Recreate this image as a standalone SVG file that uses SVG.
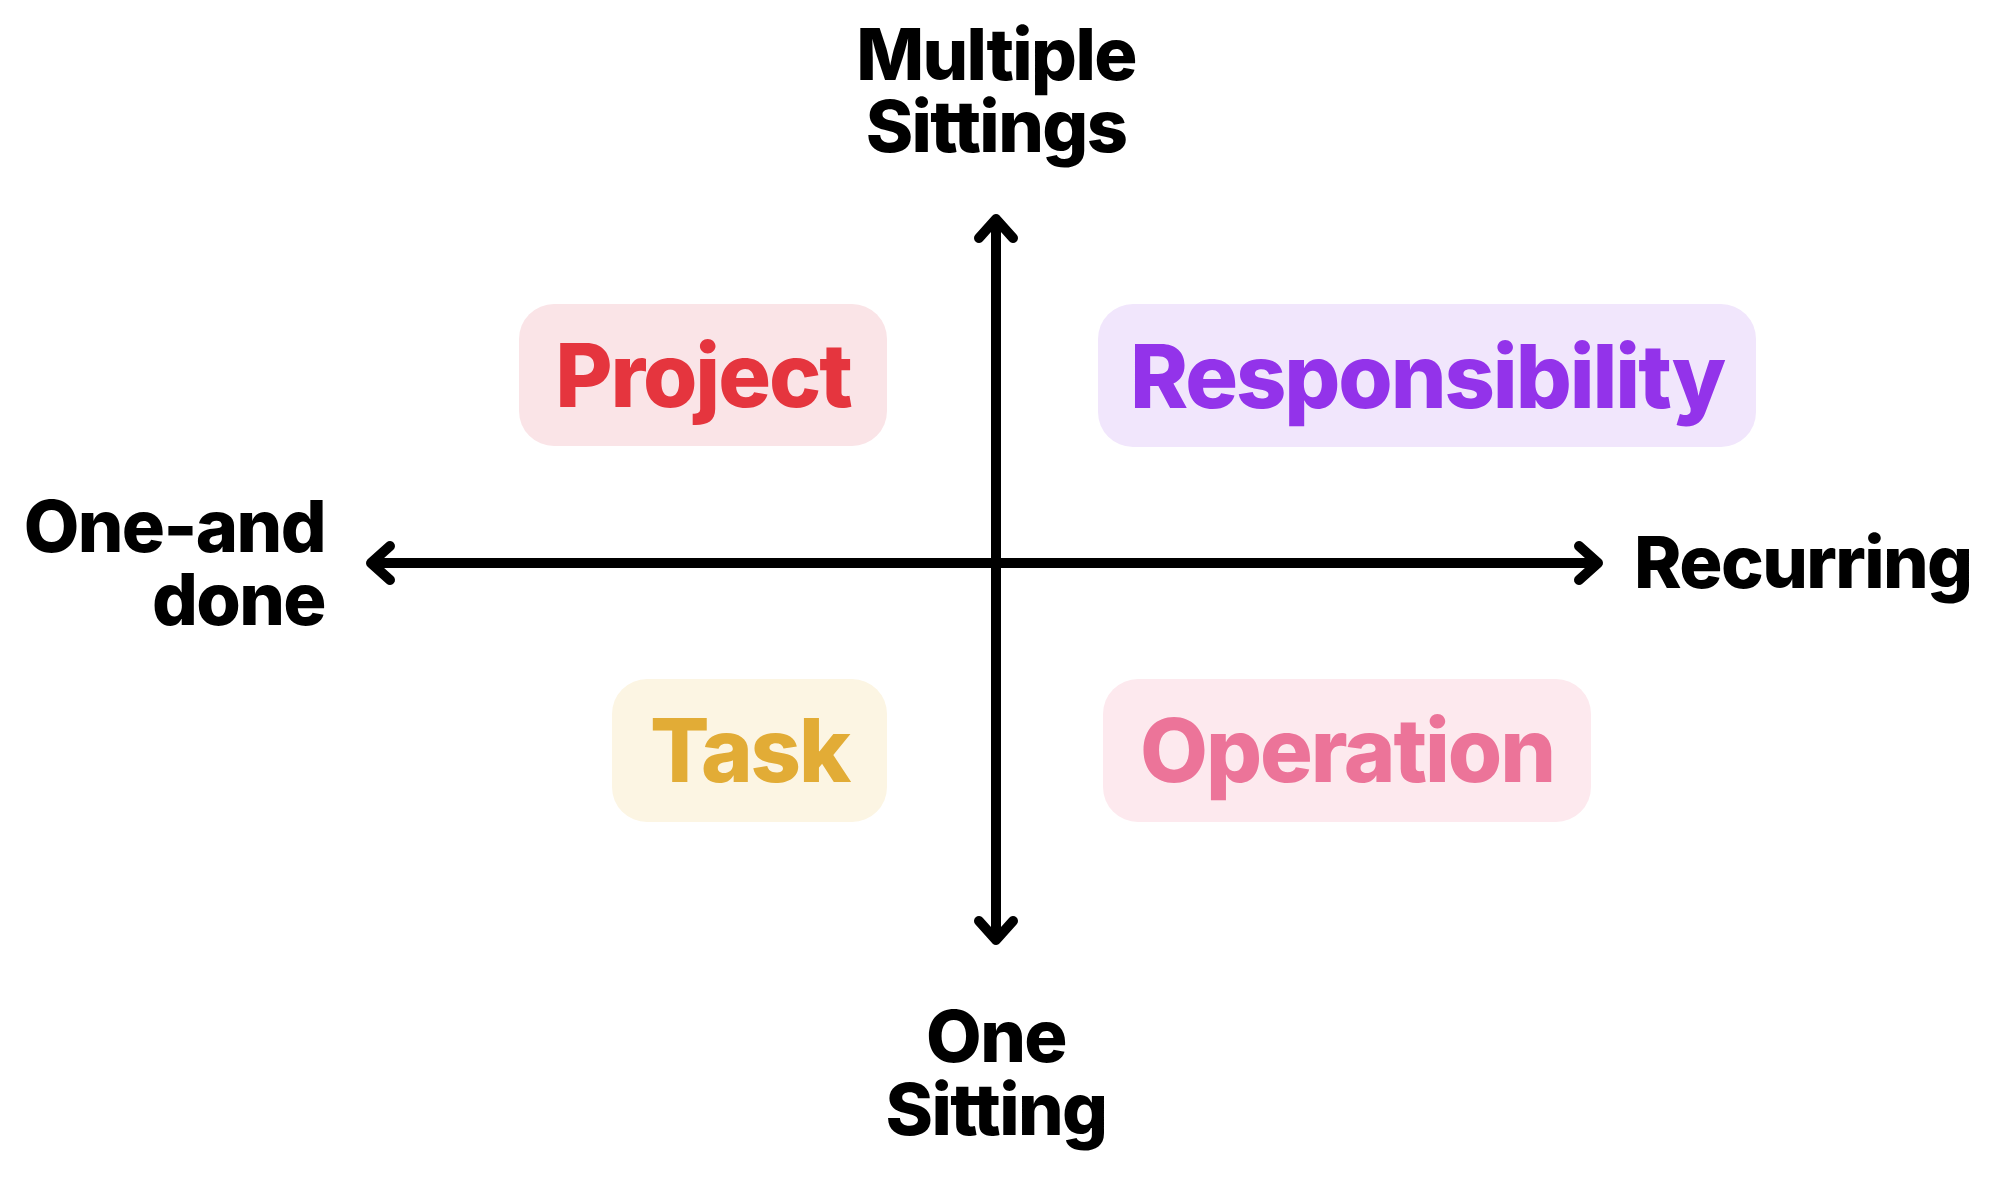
<svg xmlns="http://www.w3.org/2000/svg" width="2010" height="1190" viewBox="0 0 2010 1190">
  <style>
    .axis { fill: #000000; font-family: Inter, "Noto Sans", "Liberation Sans", sans-serif; font-weight: 800; font-size: 72px; letter-spacing: -1.6px; }
    .node-text { font-family: Inter, "Noto Sans", "Liberation Sans", sans-serif; font-weight: 800; font-size: 88px; letter-spacing: -2.1px; text-anchor: middle; }
    .conn { stroke: #000000; stroke-width: 10; fill: none; }
  </style>
  <defs>
    <marker id="chev" markerUnits="userSpaceOnUse" markerWidth="60" markerHeight="60" viewBox="-30 -30 60 60" refX="0" refY="0" orient="auto-start-reverse" overflow="visible">
      <path d="M -19 -17 L 0 0 L -19 17" fill="none" stroke="#000000" stroke-width="10" stroke-linecap="round" stroke-linejoin="round"/>
    </marker>
  </defs>
  <rect width="2010" height="1190" fill="#ffffff"/>

  <g id="connectors">
    <line class="conn" x1="996" y1="219" x2="996" y2="940" marker-start="url(#chev)" marker-end="url(#chev)"/>
    <line class="conn" x1="371" y1="563" x2="1598" y2="563" marker-start="url(#chev)" marker-end="url(#chev)"/>
  </g>

  <g id="label-multiple-sittings">
    <text class="axis" text-anchor="middle"><tspan x="996" y="80">Multiple</tspan><tspan x="996" y="152">Sittings</tspan></text>
  </g>
  <g id="label-one-and-done">
    <text class="axis" text-anchor="end"><tspan x="325" y="552">One-and</tspan><tspan x="325" y="625">done</tspan></text>
  </g>
  <g id="label-recurring">
    <text class="axis" x="1634" y="588">Recurring</text>
  </g>
  <g id="label-one-sitting">
    <text class="axis" text-anchor="middle"><tspan x="996" y="1062">One</tspan><tspan x="996" y="1135">Sitting</tspan></text>
  </g>

  <g id="node-project">
    <rect x="519" y="304" width="368" height="142" rx="35" fill="#FAE4E7"/>
    <text class="node-text" x="703" y="407" fill="#E5353E">Project</text>
  </g>
  <g id="node-responsibility">
    <rect x="1098" y="304" width="658" height="143" rx="35" fill="#F1E6FC"/>
    <text class="node-text" x="1427" y="408" fill="#9333EA">Responsibility</text>
  </g>
  <g id="node-task">
    <rect x="612" y="679" width="275" height="143" rx="35" fill="#FCF5E3"/>
    <text class="node-text" x="749.5" y="782" fill="#E2AC36">Task</text>
  </g>
  <g id="node-operation">
    <rect x="1103" y="679" width="488" height="143" rx="35" fill="#FDE9EE"/>
    <text class="node-text" x="1347" y="782" fill="#EC7499">Operation</text>
  </g>
</svg>
